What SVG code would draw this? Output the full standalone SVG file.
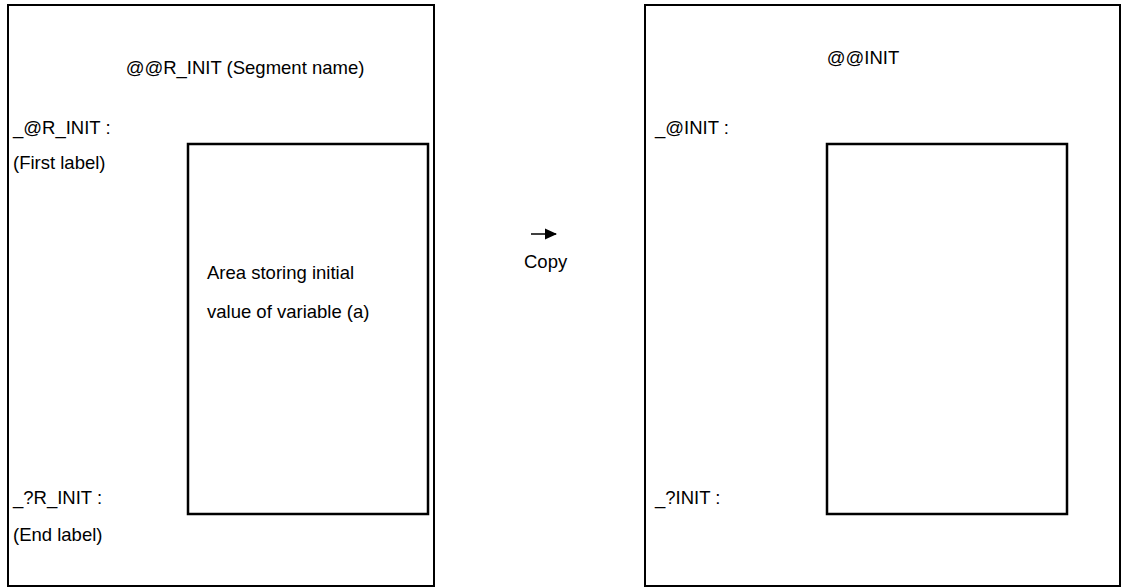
<svg xmlns="http://www.w3.org/2000/svg" width="1123" height="587" viewBox="0 0 1123 587">
<style>
.box{fill:none;stroke:#000;stroke-width:2}
.inner{fill:none;stroke:#000;stroke-width:2.5}
text{font-family:"Liberation Sans",Arial,sans-serif;font-size:18.5px;fill:#000}
</style>
<defs>
<marker id="ah" markerWidth="12" markerHeight="12" refX="11" refY="6" orient="auto" markerUnits="userSpaceOnUse">
<path d="M0,0.5 L12,6 L0,11.5 Z" fill="#000"/>
</marker>
</defs>
<rect width="1123" height="587" fill="#fff"/>
<g id="source">
<rect class="box" x="8" y="5" width="426" height="581"/>
<text x="245" y="74" text-anchor="middle">@@R_INIT (Segment name)</text>
<text x="13" y="134">_@R_INIT :</text>
<text x="13" y="169">(First label)</text>
<text x="13" y="504">_?R_INIT :</text>
<text x="13" y="541">(End label)</text>
</g>
<g id="source-area">
<rect class="inner" x="188" y="144" width="240" height="370"/>
<text x="207" y="279">Area storing initial</text>
<text x="207" y="318">value of variable (a)</text>
</g>
<g id="dest">
<rect class="box" x="645" y="5" width="475" height="581"/>
<text x="863" y="64" text-anchor="middle">@@INIT</text>
<text x="655" y="134">_@INIT :</text>
<text x="655" y="504">_?INIT :</text>
</g>
<g id="dest-area">
<rect class="inner" x="827" y="144" width="240" height="370"/>
</g>
<g id="connectors">
<line x1="531" y1="234" x2="556" y2="234" stroke="#000" stroke-width="1.5" marker-end="url(#ah)"/>
<text x="524" y="268">Copy</text>
</g>
</svg>
